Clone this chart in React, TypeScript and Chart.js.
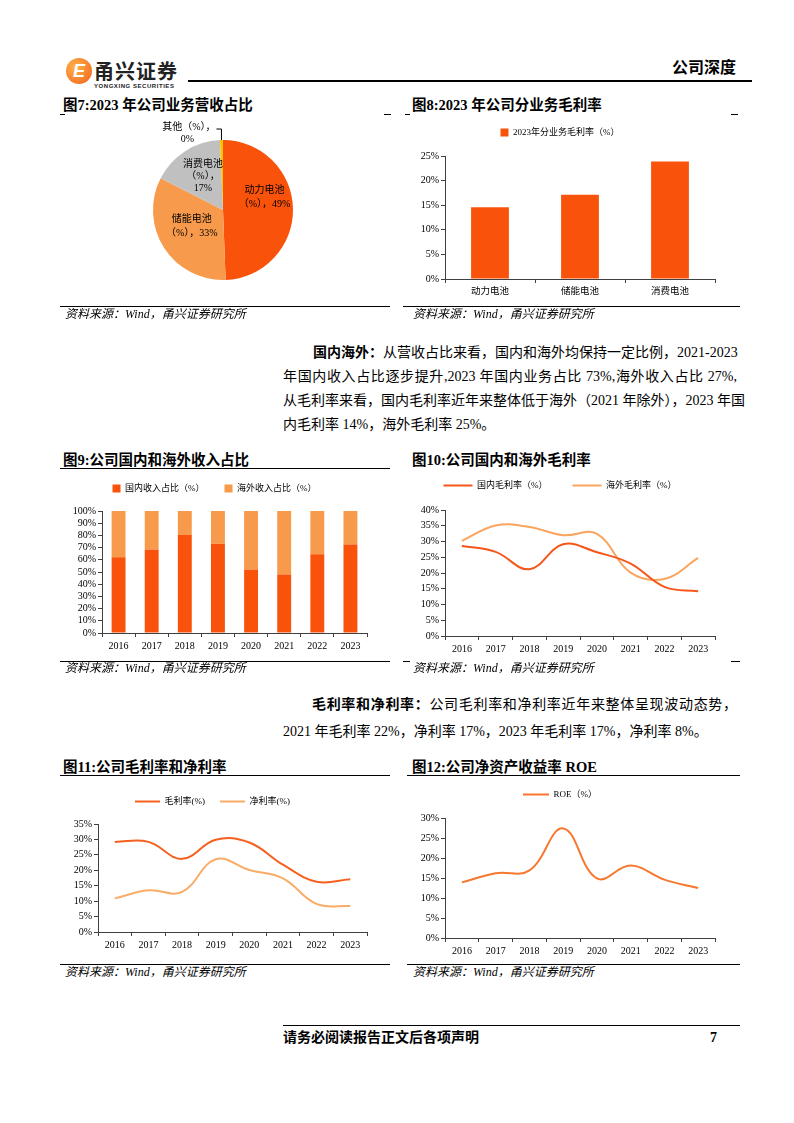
import React, { useEffect, useRef } from 'react';
import { Chart, registerables } from 'chart.js';
Chart.register(...registerables);

const SERIF = '"Liberation Serif", "Times New Roman", "Noto Sans CJK SC", serif';
const CJK = '"Liberation Serif", "Noto Sans CJK SC", serif';

const DARK = '#F9530B';
const LIGHT = '#F79A4B';
const GRAY = '#C0C0C0';
const GOLD = '#FFC000';
const AXIS = '#404040';

// ---------- data ----------
const pieCategories = ['动力电池', '储能电池', '消费电池', '其他'];
const pieValues = [49.4, 33.1, 16.8, 0.7];
const pieValueLabels = ['49%', '33%', '17%', '0%'];

const segmentCategories = ['动力电池', '储能电池', '消费电池'];
const segmentMargin = [14.6, 17.1, 23.9];
const segmentSeriesName = '2023年分业务毛利率（%）';

const years = ['2016', '2017', '2018', '2019', '2020', '2021', '2022', '2023'];
const domesticShare = [62, 68.5, 80.5, 73, 52, 48, 64.5, 72.5];
const overseasShare = [38, 31.5, 19.5, 27, 48, 52, 35.5, 27.5];
const domesticMargin = [28.6, 26.7, 21.2, 29.1, 26.6, 23.0, 15.6, 14.2];
const overseasMargin = [30.2, 35.1, 34.6, 32.0, 32.4, 20.1, 18.1, 24.8];
const grossMargin = [29.2, 29.2, 23.7, 29.9, 29.0, 21.8, 16.3, 17.1];
const netMargin = [10.9, 13.5, 13.0, 23.6, 20.1, 17.4, 9.1, 8.4];
const roe = [13.9, 16.2, 16.9, 27.4, 14.9, 18.1, 14.6, 12.5];

// ---------- helpers ----------
const legendGapPlugin: any = {
  id: 'legendGap',
  beforeLayout(chart: any, _args: any, opts: any) {
    const lg = chart.legend;
    if (lg && !lg.__gapPatched) {
      const orig = lg.fit;
      lg.fit = function () {
        orig.call(this);
        this.height += (opts && opts.gap) || 0;
      };
      lg.__gapPatched = true;
    }
  },
};

function legendOpts(padding: number, lineWidth?: number) {
  return {
    display: true,
    position: 'top',
    align: 'center',
    labels: {
      color: '#000',
      font: { family: CJK, size: 9 },
      padding,
      boxWidth: lineWidth || 8,
      boxHeight: 8,
      usePointStyle: !!lineWidth,
      pointStyle: lineWidth ? 'line' : undefined,
      pointStyleWidth: lineWidth,
    },
  };
}

function yScale(max: number, step: number, width: number) {
  return {
    min: 0,
    max,
    ticks: {
      stepSize: step,
      autoSkip: false,
      color: '#000',
      font: { family: SERIF, size: 10 },
      padding: 2,
      callback: (v: any) => `${v}%`,
    },
    grid: { display: true, drawOnChartArea: false, drawTicks: true, tickLength: 4, color: AXIS, lineWidth: 1 },
    border: { display: true, color: AXIS, width: 1 },
    afterFit: (s: any) => {
      s.width = width;
    },
  };
}

function xScale(height: number, family = SERIF, size = 10) {
  return {
    offset: true,
    ticks: { color: '#000', font: { family, size }, padding: 3, maxRotation: 0, autoSkip: false },
    grid: { display: true, offset: true, drawOnChartArea: false, drawTicks: true, tickLength: 4, color: AXIS },
    border: { display: true, color: AXIS, width: 1 },
    afterFit: (s: any) => {
      s.height = height;
    },
  };
}

const pieLabelOffsets = [
  [1, -12],
  [3, -5],
  [2, 1],
];

const pieLabelPlugin: any = {
  id: 'pieLabels',
  afterDatasetsDraw(chart: any) {
    const ctx = chart.ctx;
    const meta = chart.getDatasetMeta(0);
    ctx.save();
    ctx.fillStyle = '#000';
    ctx.font = `10px ${CJK}`;
    ctx.textBaseline = 'middle';
    meta.data.forEach((arc: any, i: number) => {
      const { x, y, startAngle, endAngle, outerRadius } = arc.getProps(
        ['x', 'y', 'startAngle', 'endAngle', 'outerRadius'],
        true
      );
      const mid = (startAngle + endAngle) / 2;
      const name = pieCategories[i];
      const pct = pieValueLabels[i];
      if (i === 3) {
        const px = x + Math.cos(mid) * outerRadius;
        const py = y + Math.sin(mid) * outerRadius;
        ctx.strokeStyle = '#000';
        ctx.lineWidth = 1;
        ctx.beginPath();
        ctx.moveTo(px, py);
        ctx.lineTo(px, py - 11);
        ctx.lineTo(px - 5, py - 11);
        ctx.stroke();
        ctx.textAlign = 'right';
        ctx.fillText(`${name}（%），`, px - 6, py - 13);
        ctx.textAlign = 'center';
        ctx.fillText(pct, px - 34, py - 1);
        return;
      }
      const r = outerRadius * 0.58;
      const cx = x + Math.cos(mid) * r + pieLabelOffsets[i][0];
      const cy = y + Math.sin(mid) * r + pieLabelOffsets[i][1];
      ctx.textAlign = 'center';
      const lines = i === 2 ? [name, '（%），', pct] : [name, `（%），${pct}`];
      const lh = i === 2 ? 12 : 14;
      lines.forEach((t, k) => {
        ctx.fillText(t, cx, cy + (k - (lines.length - 1) / 2) * lh);
      });
    });
    ctx.restore();
  },
};

// ---------- chart builders ----------
const buildPie = () => ({
  type: 'pie',
  data: {
    labels: pieCategories,
    datasets: [{ data: pieValues, backgroundColor: [DARK, LIGHT, GRAY, GOLD], borderWidth: 0 }],
  },
  options: {
    responsive: false,
    animation: false,
    radius: 70,
    layout: { padding: 0 },
    plugins: { legend: { display: false }, tooltip: { enabled: false } },
  },
  plugins: [pieLabelPlugin],
});

const buildSegment = () => ({
  type: 'bar',
  data: {
    labels: segmentCategories,
    datasets: [
      {
        label: segmentSeriesName,
        data: segmentMargin,
        backgroundColor: DARK,
        borderWidth: 0,
        categoryPercentage: 1,
        barPercentage: 0.42,
      },
    ],
  },
  options: {
    responsive: false,
    animation: false,
    layout: { padding: { top: 0, right: 10, bottom: 0, left: 0 } },
    plugins: { legend: legendOpts(10), legendGap: { gap: 9 }, tooltip: { enabled: false } },
    scales: { x: xScale(29, CJK, 9.5), y: yScale(25, 5, 40) },
  },
  plugins: [legendGapPlugin],
});

const buildShare = () => ({
  type: 'bar',
  data: {
    labels: years,
    datasets: [
      { label: '国内收入占比（%）', data: domesticShare, backgroundColor: DARK, borderWidth: 0, categoryPercentage: 1, barPercentage: 0.42 },
      { label: '海外收入占比（%）', data: overseasShare, backgroundColor: LIGHT, borderWidth: 0, categoryPercentage: 1, barPercentage: 0.42 },
    ],
  },
  options: {
    responsive: false,
    animation: false,
    layout: { padding: { top: 0, right: 10, bottom: 0, left: 0 } },
    plugins: { legend: legendOpts(20), legendGap: { gap: 8 }, tooltip: { enabled: false } },
    scales: {
      x: { ...xScale(27), stacked: true },
      y: { ...yScale(100, 10, 40), stacked: true },
    },
  },
  plugins: [legendGapPlugin],
});

function lineDataset(label: string, data: number[], color: string) {
  return {
    label,
    data,
    borderColor: color,
    backgroundColor: color,
    borderWidth: 2,
    pointRadius: 0,
    tension: 0.4,
    fill: false,
  };
}

const buildRegionMargin = () => ({
  type: 'line',
  data: {
    labels: years,
    datasets: [
      lineDataset('国内毛利率（%）', domesticMargin, '#F5561A'),
      lineDataset('海外毛利率（%）', overseasMargin, '#F9A55E'),
    ],
  },
  options: {
    responsive: false,
    animation: false,
    layout: { padding: { top: 0, right: 10, bottom: 0, left: 0 } },
    plugins: { legend: legendOpts(25, 29), legendGap: { gap: 10 }, tooltip: { enabled: false } },
    scales: { x: xScale(26), y: yScale(40, 5, 40) },
  },
  plugins: [legendGapPlugin],
});

const buildProfit = () => ({
  type: 'line',
  data: {
    labels: years,
    datasets: [
      lineDataset('毛利率(%)', grossMargin, '#F5601E'),
      lineDataset('净利率(%)', netMargin, '#F9AC68'),
    ],
  },
  options: {
    responsive: false,
    animation: false,
    layout: { padding: { top: 0, right: 10, bottom: 0, left: 0 } },
    plugins: { legend: legendOpts(15, 25), legendGap: { gap: 8 }, tooltip: { enabled: false } },
    scales: { x: xScale(30), y: yScale(35, 5, 40) },
  },
  plugins: [legendGapPlugin],
});

const buildRoe = () => ({
  type: 'line',
  data: {
    labels: years,
    datasets: [lineDataset('ROE（%）', roe, '#F7772F')],
  },
  options: {
    responsive: false,
    animation: false,
    layout: { padding: { top: 0, right: 10, bottom: 0, left: 0 } },
    plugins: { legend: legendOpts(10, 26), legendGap: { gap: 9 }, tooltip: { enabled: false } },
    scales: { x: xScale(24), y: yScale(30, 5, 40) },
  },
  plugins: [legendGapPlugin],
});

// ---------- components ----------
function ChartBox({ left, top, width, height, build }: { left: number; top: number; width: number; height: number; build: () => any }) {
  const ref = useRef<HTMLCanvasElement | null>(null);
  useEffect(() => {
    if (!ref.current) return;
    const chart = new Chart(ref.current, build());
    return () => chart.destroy();
  }, []);
  return <canvas ref={ref} width={width} height={height} style={{ position: 'absolute', left, top, width, height }} />;
}

function HLine({ x1, x2, y, h = 1 }: { x1: number; x2: number; y: number; h?: number }) {
  return <div style={{ position: 'absolute', left: x1, top: y, width: x2 - x1, height: h, background: '#000' }} />;
}

function Title({ x, y, text }: { x: number; y: number; text: string }) {
  return (
    <div style={{ position: 'absolute', left: x, top: y - 10, lineHeight: '20px', fontSize: 14.5, fontWeight: 'bold', fontFamily: CJK, whiteSpace: 'nowrap', color: '#000' }}>
      {text}
    </div>
  );
}

function Source({ x, y }: { x: number; y: number }) {
  return (
    <div style={{ position: 'absolute', left: x, top: y - 9, lineHeight: '18px', fontSize: 12, fontStyle: 'italic', fontFamily: CJK, whiteSpace: 'nowrap', color: '#000' }}>
      资料来源：Wind，甬兴证券研究所
    </div>
  );
}

function TextLine({ x, y, w, last, children }: { x: number; y: number; w: number; last?: boolean; children: any }) {
  return (
    <div
      style={{
        position: 'absolute',
        left: x,
        top: y - 10,
        width: w,
        lineHeight: '20px',
        fontSize: 14,
        fontFamily: CJK,
        whiteSpace: 'nowrap',
        textAlign: last ? 'left' : 'justify',
        textAlignLast: last ? 'left' : 'justify',
        color: '#000',
      } as any}
    >
      {children}
    </div>
  );
}

export default function App() {
  return (
    <div style={{ position: 'absolute', left: 0, top: 0, width: 794, height: 1123, background: '#fff', overflow: 'hidden' }}>
      {/* header */}
      <div
        style={{
          position: 'absolute',
          left: 66,
          top: 58,
          width: 26,
          height: 26,
          borderRadius: '50%',
          background: 'radial-gradient(circle at 35% 35%, #FFB24A, #F0601A)',
          color: '#fff',
          fontFamily: '"Liberation Sans", sans-serif',
          fontWeight: 900,
          fontStyle: 'italic',
          fontSize: 18,
          lineHeight: '26px',
          textAlign: 'center',
        }}
      >
        E
      </div>
      <div style={{ position: 'absolute', left: 94, top: 59, fontSize: 20, lineHeight: '24px', fontWeight: 'bold', fontFamily: '"Noto Sans CJK SC", sans-serif', color: '#222', letterSpacing: 1 }}>
        甬兴证券
      </div>
      <div style={{ position: 'absolute', left: 94, top: 82, fontSize: 6, lineHeight: '8px', fontWeight: 'bold', fontFamily: '"Liberation Sans", sans-serif', color: '#222', letterSpacing: 0.55 }}>
        YONGXING SECURITIES
      </div>
      <HLine x1={188} x2={752} y={80} h={2} />
      <div style={{ position: 'absolute', left: 672, top: 58, fontSize: 16, lineHeight: '20px', fontWeight: 'bold', fontFamily: CJK, color: '#000' }}>
        公司深度
      </div>

      {/* row 1 */}
      <Title x={63} y={105} text="图7:2023 年公司业务营收占比" />
      <Title x={412} y={105} text="图8:2023 年公司分业务毛利率" />
      <HLine x1={60} x2={65} y={114} />
      <HLine x1={384} x2={391} y={114} />
      <HLine x1={405} x2={410} y={114} />
      <HLine x1={731} x2={738} y={114} />
      <ChartBox left={73} top={110} width={300} height={200} build={buildPie} />
      <ChartBox left={405} top={118} width={320} height={190} build={buildSegment} />
      <HLine x1={60} x2={390} y={306} />
      <HLine x1={403} x2={740} y={306} />
      <Source x={65} y={314} />
      <Source x={413} y={314} />

      {/* paragraph 1 */}
      <TextLine x={313} y={353} w={424}>
        <b>国内海外：</b>从营收占比来看，国内和海外均保持一定比例，2021-2023
      </TextLine>
      <TextLine x={283} y={377} w={454}>
        年国内收入占比逐步提升,2023 年国内业务占比 73%,海外收入占比 27%,
      </TextLine>
      <TextLine x={283} y={401} w={454}>
        从毛利率来看，国内毛利率近年来整体低于海外（2021 年除外），2023 年国
      </TextLine>
      <TextLine x={283} y={425} w={454} last>
        内毛利率 14%，海外毛利率 25%。
      </TextLine>

      {/* row 2 */}
      <Title x={63} y={460} text="图9:公司国内和海外收入占比" />
      <Title x={412} y={460} text="图10:公司国内和海外毛利率" />
      <HLine x1={60} x2={390} y={468} />
      <ChartBox left={62} top={464} width={315} height={196} build={buildShare} />
      <ChartBox left={405} top={456} width={320} height={206} build={buildRegionMargin} />
      <HLine x1={60} x2={390} y={661} />
      <HLine x1={403} x2={410} y={661} />
      <HLine x1={731} x2={740} y={661} />
      <Source x={65} y={668} />
      <Source x={413} y={668} />

      {/* paragraph 2 */}
      <TextLine x={312} y={705} w={425}>
        <b>毛利率和净利率：</b>公司毛利率和净利率近年来整体呈现波动态势，
      </TextLine>
      <TextLine x={283} y={732} w={454} last>
        2021 年毛利率 22%，净利率 17%，2023 年毛利率 17%，净利率 8%。
      </TextLine>

      {/* row 3 */}
      <Title x={63} y={767} text="图11:公司毛利率和净利率" />
      <Title x={412} y={767} text="图12:公司净资产收益率 ROE" />
      <HLine x1={60} x2={390} y={775} />
      <HLine x1={407} x2={740} y={775} />
      <ChartBox left={58} top={782} width={319} height={180} build={buildProfit} />
      <ChartBox left={405} top={780} width={320} height={182} build={buildRoe} />
      <HLine x1={60} x2={390} y={964} />
      <HLine x1={407} x2={740} y={964} />
      <Source x={65} y={972} />
      <Source x={413} y={972} />

      {/* footer */}
      <HLine x1={283} x2={740} y={1025} />
      <div style={{ position: 'absolute', left: 283, top: 1028, fontSize: 14, lineHeight: '20px', fontWeight: 'bold', fontFamily: CJK, color: '#000' }}>
        请务必阅读报告正文后各项声明
      </div>
      <div style={{ position: 'absolute', left: 710, top: 1028, fontSize: 14, lineHeight: '20px', fontWeight: 'bold', fontFamily: SERIF, color: '#000' }}>
        7
      </div>
    </div>
  );
}
